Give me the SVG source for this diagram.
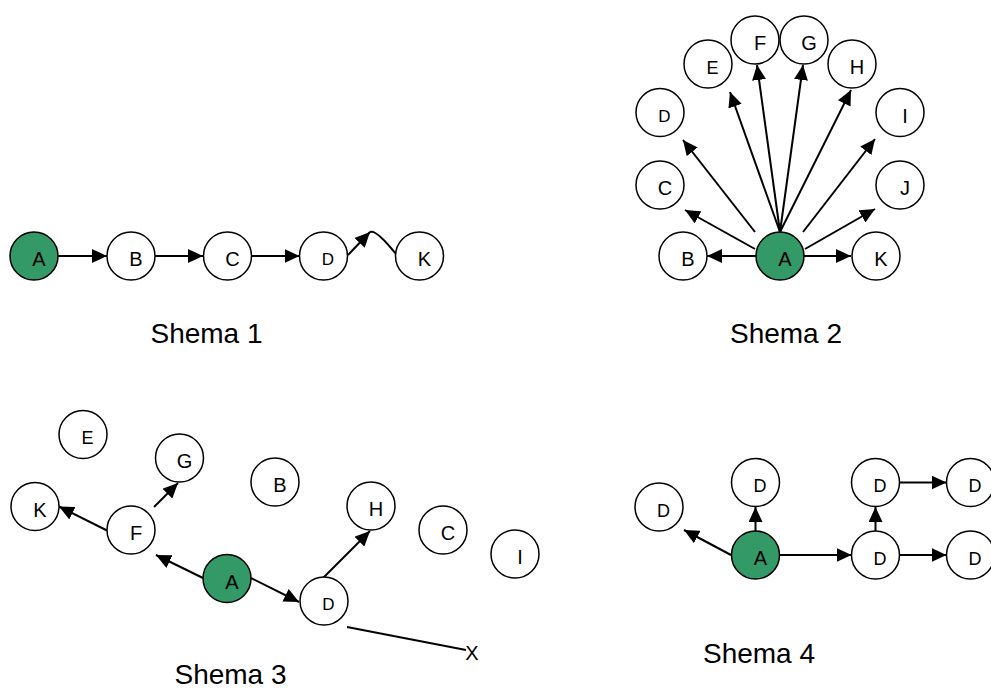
<svg xmlns="http://www.w3.org/2000/svg" width="991" height="689" viewBox="0 0 991 689">
<style>
.n{fill:#fff;stroke:#000;stroke-width:1.5}
.g{fill:#339966;stroke:#000;stroke-width:1.5}
.t{font-family:"Liberation Sans",Arial,sans-serif;font-size:20px;text-anchor:middle;fill:#000}
.s{font-size:17px}
.m{font-size:18px}
.cap{font-family:"Liberation Sans",Arial,sans-serif;font-size:28px;text-anchor:middle;fill:#000}
.e{stroke:#000;stroke-width:2;fill:none}
.a{marker-end:url(#ah)}
</style>
<defs>
<marker id="ah" markerUnits="userSpaceOnUse" markerWidth="15" markerHeight="14" refX="15" refY="7" orient="auto">
<path d="M0,0 L15,7 L0,14 z" fill="#000"/>
</marker>
</defs>

<g id="connectors">
<!-- Schema 1 -->
<line class="e a" x1="58" y1="256" x2="107" y2="256"/>
<line class="e a" x1="155" y1="256" x2="203" y2="256"/>
<line class="e a" x1="251.5" y1="256" x2="299.5" y2="256"/>
<line class="e a" x1="348" y1="255" x2="370" y2="232"/>
<path class="e" d="M370,232 Q376,229 396,254"/>
<!-- Schema 2 -->
<line class="e a" x1="756" y1="256" x2="707" y2="256"/>
<line class="e a" x1="804" y1="256" x2="851" y2="256"/>
<line class="e a" x1="755" y1="249" x2="685" y2="210"/>
<line class="e a" x1="755" y1="232" x2="683" y2="140"/>
<line class="e a" x1="780" y1="232" x2="730" y2="92"/>
<line class="e a" x1="780" y1="232" x2="757" y2="65"/>
<line class="e a" x1="780" y1="232" x2="803" y2="65"/>
<line class="e a" x1="780" y1="232" x2="851" y2="90"/>
<line class="e a" x1="803" y1="232" x2="875" y2="139"/>
<line class="e a" x1="805" y1="249" x2="875" y2="209"/>
<!-- Schema 3 -->
<line class="e a" x1="203" y1="578" x2="156" y2="555"/>
<line class="e a" x1="107" y1="530.5" x2="59" y2="506.5"/>
<line class="e a" x1="154" y1="507" x2="178" y2="483"/>
<line class="e a" x1="251" y1="578" x2="299" y2="602"/>
<line class="e a" x1="323" y1="578" x2="370" y2="531"/>
<line class="e" x1="347" y1="627" x2="466" y2="650"/>
<!-- Schema 4 -->
<line class="e a" x1="731" y1="555" x2="684" y2="530"/>
<line class="e a" x1="755.5" y1="531" x2="755.5" y2="507"/>
<line class="e a" x1="780" y1="555" x2="851.5" y2="555"/>
<line class="e a" x1="875.5" y1="531" x2="875.5" y2="507"/>
<line class="e a" x1="899.5" y1="482.5" x2="946.5" y2="482.5"/>
<line class="e a" x1="899.5" y1="555" x2="946.5" y2="555"/>
</g>

<!-- Schema 1 -->
<g id="s1-A"><circle class="g" cx="34" cy="256" r="24"/><text class="t" x="39" y="266">A</text></g>
<g id="s1-B"><circle class="n" cx="131" cy="256" r="24"/><text class="t" x="136" y="266">B</text></g>
<g id="s1-C"><circle class="n" cx="227.5" cy="256" r="24"/><text class="t" x="232.5" y="266">C</text></g>
<g id="s1-D"><circle class="n" cx="323.5" cy="256" r="24"/><text class="t s" x="328" y="264.5">D</text></g>
<g id="s1-K"><circle class="n" cx="419.5" cy="256" r="24"/><text class="t" x="424.5" y="266">K</text></g>
<text class="cap" x="206.5" y="342.5">Shema 1</text>

<!-- Schema 2 -->
<g id="s2-A"><circle class="g" cx="780" cy="256" r="24"/><text class="t" x="785" y="266">A</text></g>
<g id="s2-B"><circle class="n" cx="683" cy="256" r="24"/><text class="t" x="688" y="266">B</text></g>
<g id="s2-K"><circle class="n" cx="876" cy="256" r="24"/><text class="t" x="881" y="266">K</text></g>
<g id="s2-C"><circle class="n" cx="660" cy="185" r="24"/><text class="t" x="665" y="195">C</text></g>
<g id="s2-D"><circle class="n" cx="660" cy="112.5" r="24"/><text class="t s" x="664.5" y="121.5">D</text></g>
<g id="s2-E"><circle class="n" cx="708" cy="64" r="24"/><text class="t m" x="712.5" y="73.5">E</text></g>
<g id="s2-F"><circle class="n" cx="755" cy="40" r="24"/><text class="t" x="760" y="50">F</text></g>
<g id="s2-G"><circle class="n" cx="804" cy="40" r="24"/><text class="t" x="809" y="50">G</text></g>
<g id="s2-H"><circle class="n" cx="852" cy="64" r="24"/><text class="t" x="857" y="74">H</text></g>
<g id="s2-I"><circle class="n" cx="900" cy="112.5" r="24"/><text class="t" x="905" y="122.5">I</text></g>
<g id="s2-J"><circle class="n" cx="900" cy="185" r="24"/><text class="t" x="905" y="195">J</text></g>
<text class="cap" x="786" y="342.5">Shema 2</text>

<!-- Schema 3 -->
<g id="s3-E"><circle class="n" cx="83" cy="434.5" r="24"/><text class="t m" x="87.5" y="443.5">E</text></g>
<g id="s3-G"><circle class="n" cx="179.5" cy="458" r="24"/><text class="t" x="184.5" y="468">G</text></g>
<g id="s3-B"><circle class="n" cx="275" cy="482" r="24"/><text class="t" x="280" y="492">B</text></g>
<g id="s3-K"><circle class="n" cx="35" cy="506.5" r="24"/><text class="t" x="40" y="516.5">K</text></g>
<g id="s3-F"><circle class="n" cx="131" cy="530" r="24"/><text class="t" x="136" y="540">F</text></g>
<g id="s3-H"><circle class="n" cx="371" cy="506" r="24"/><text class="t" x="376" y="516">H</text></g>
<g id="s3-C"><circle class="n" cx="443" cy="530" r="24"/><text class="t" x="448" y="540">C</text></g>
<g id="s3-I"><circle class="n" cx="515" cy="554" r="24"/><text class="t" x="520" y="564">I</text></g>
<g id="s3-A"><circle class="g" cx="227" cy="578.5" r="24"/><text class="t" x="232" y="588.5">A</text></g>
<g id="s3-D"><circle class="n" cx="324" cy="601" r="24"/><text class="t s" x="328.5" y="609.5">D</text></g>
<text class="t" x="472" y="660">X</text>
<text class="cap" x="230.5" y="684">Shema 3</text>

<!-- Schema 4 -->
<g id="s4-D1"><circle class="n" cx="659" cy="507" r="24"/><text class="t m" x="663.5" y="516.5">D</text></g>
<g id="s4-D2"><circle class="n" cx="755.5" cy="482.5" r="24"/><text class="t m" x="760" y="492">D</text></g>
<g id="s4-A"><circle class="g" cx="755.5" cy="555" r="24"/><text class="t" x="760.5" y="565">A</text></g>
<g id="s4-D3"><circle class="n" cx="875.5" cy="482.5" r="24"/><text class="t m" x="880" y="492">D</text></g>
<g id="s4-D4"><circle class="n" cx="875.5" cy="555" r="24"/><text class="t m" x="880" y="564.5">D</text></g>
<g id="s4-D5"><circle class="n" cx="970.5" cy="482.5" r="24"/><text class="t m" x="975" y="492">D</text></g>
<g id="s4-D6"><circle class="n" cx="970.5" cy="555" r="24"/><text class="t m" x="975" y="564.5">D</text></g>
<text class="cap" x="759" y="663">Shema 4</text>
</svg>
